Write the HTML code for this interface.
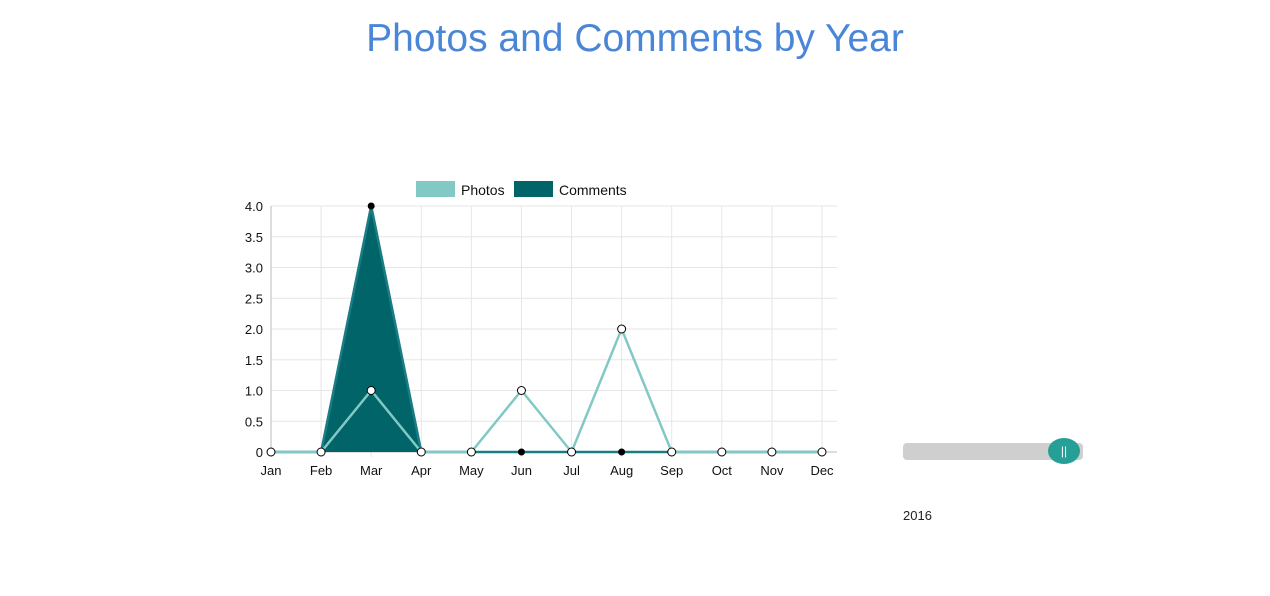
<!DOCTYPE html>
<html><head><meta charset="utf-8"><style>
body{margin:0;width:1270px;height:596px;background:#fff;font-family:"Liberation Sans",sans-serif;position:relative;overflow:hidden}
h1{position:absolute;top:17px;left:0;width:1270px;text-align:center;margin:0;font-weight:normal;font-size:39px;color:#4a86d8}
</style></head><body>
<h1>Photos and Comments by Year</h1>
<svg id="c" width="1270" height="596" style="position:absolute;left:0;top:0"></svg>
<div style="position:absolute;left:903px;top:443px;width:180px;height:17px;background:#cfcfcf;border-radius:4px"></div>
<div style="position:absolute;left:1048px;top:438px;width:32px;height:26px;background:#26a096;border-radius:50%;color:#fff;font-size:12px;text-align:center;line-height:26px">||</div>
<div style="position:absolute;left:903px;top:508px;font-size:13px;color:#222">2016</div>
<script>
const months=["Jan","Feb","Mar","Apr","May","Jun","Jul","Aug","Sep","Oct","Nov","Dec"];
const photos=[0,0,1,0,0,1,0,2,0,0,0,0];
const comments=[0,0,4,0,0,0,0,0,0,0,0,0];
const yTicks=[0,0.5,1,1.5,2,2.5,3,3.5,4];
const svg=document.getElementById('c');const NS='http://www.w3.org/2000/svg';
const x0=271,x1=822,y0=452,y1=206,ymax=4;
const X=i=>x0+i*(x1-x0)/(months.length-1);
const Y=v=>y0-v/ymax*(y0-y1);
function mk(t,a,p){const e=document.createElementNS(NS,t);for(const k in a)e.setAttribute(k,a[k]);(p||svg).appendChild(e);return e;}
yTicks.forEach(v=>{const g=mk('line',{x1:x0,x2:837,y1:Y(v),y2:Y(v),stroke:'#e6e6e6'});

const t=mk('text',{x:x0-8,y:Y(v)+5,'text-anchor':'end','font-size':13,fill:'#111'});t.textContent=v===0?'0':v.toFixed(1);
});
months.forEach((m,i)=>{const g=mk('line',{x1:X(i),x2:X(i),y1:y1,y2:y0+5,stroke:'#e6e6e6'});

const t=mk('text',{x:X(i),y:475,'text-anchor':'middle','font-size':13,fill:'#111'});t.textContent=m;
});
mk('line',{x1:x0,x2:x0,y1:y1,y2:y0,stroke:'#bbb'});mk('line',{x1:x0,x2:837,y1:y0,y2:y0,stroke:'#bbb'});
function series(data,col,fill,name,ptFill){
 const pts=data.map((v,i)=>X(i)+','+Y(v)).join(' ');
 if(fill){const a=mk('polygon',{points:X(0)+','+y0+' '+pts+' '+X(data.length-1)+','+y0,fill:fill});
 }
 const l=mk('polyline',{points:pts,fill:'none',stroke:col,'stroke-width':2.5});
 
 data.forEach((v,i)=>{const c=mk('circle',{cx:X(i),cy:Y(v),r:ptFill==='#fff'?4:3,fill:ptFill,stroke:'#000','stroke-width':1});
 });
}
series(comments,'#1a7d85','#006468','comments','#000');
series(photos,'#82c9c6',null,'photos','#fff');
[[416,'#82c9c6','Photos',461],[514,'#006468','Comments',559]].forEach(d=>{
 const r=mk('rect',{x:d[0],y:181,width:39,height:16,fill:d[1]});
 const t=mk('text',{x:d[3],y:195,'font-size':14,fill:'#111'});t.textContent=d[2];});
</script>
</body></html>
